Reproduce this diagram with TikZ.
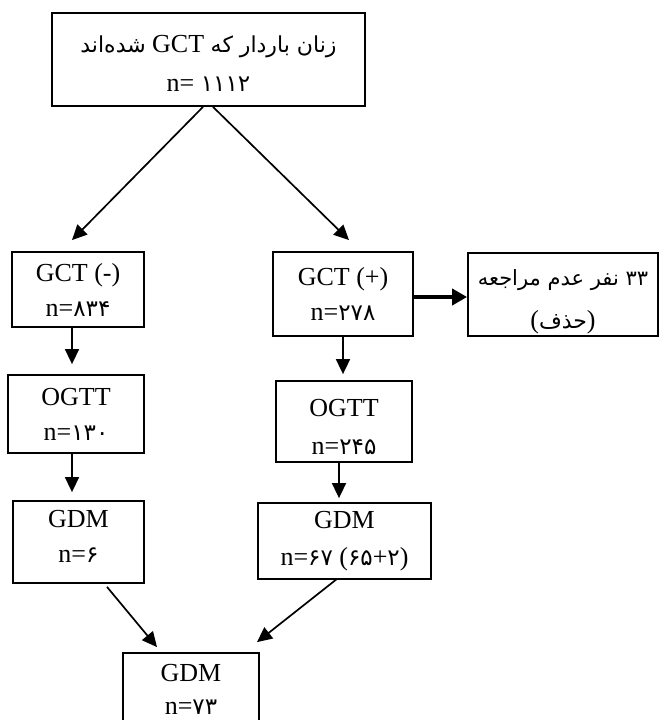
\documentclass[tikz,border=0pt]{standalone}
\usepackage{fontspec}
\setmainfont{Liberation Serif}
\newfontfamily\fa[Script=Arabic]{DejaVu Sans}
\TeXXeTstate=1
\usetikzlibrary{arrows.meta,calc}
\newcommand\pdig[1]{{\fa\fontsize{23}{23}\selectfont #1}}
\newcommand\fatext[1]{{\fa\fontsize{22}{22}\selectfont\beginR #1\endR}}
\newcommand\updepth[1]{\rule[-#1]{0pt}{#1}}
\newcommand\upheight[1]{\rule{0pt}{#1}}
\begin{document}
\begin{tikzpicture}[x=1pt,y=-1pt,
  box/.style={draw, line width=1.8pt, inner sep=0pt, align=center,
    font=\fontsize{26}{36}\selectfont},
  arr/.style={-{Triangle[length=15pt,width=14pt]}, line width=1.7pt},
  thickarr/.style={-{Triangle[length=15pt,width=16pt]}, line width=4.5pt}]
\useasboundingbox (0,0) rectangle (659,720);
\clip (0,0) rectangle (659,720);

\node[box, minimum width=313pt, minimum height=93pt] (top) at (208.5,59.5)
  {\upheight{24pt}\fatext{شده‌اند}\ GCT\ \fatext{زنان باردار که}\\[3pt] n=\ \pdig{۱۱۱۲}};
\node[box, minimum width=132pt, minimum height=75pt] (gctn) at (78,289.5)
  {GCT (-)\\[-1pt] n=\pdig{۸۳۴}};
\node[box, minimum width=140pt, minimum height=84pt] (gctp) at (343,294)
  {GCT (+)\\[-1pt] n=\pdig{۲۷۸}};
\node[box, minimum width=190pt, minimum height=83pt] (side) at (563,294.5)
  {\upheight{30pt}{\fa\fontsize{21}{21}\selectfont\beginR ۳۳ نفر عدم مراجعه\endR}\\[7pt] (\fatext{حذف})};
\node[box, minimum width=136pt, minimum height=78pt] (ogttn) at (76,414)
  {OGTT\\[-1pt] n=\pdig{۱۳۰}};
\node[box, minimum width=136pt, minimum height=81pt] (ogttp) at (344,421.5)
  {\upheight{28pt}OGTT\\[2pt] n=\pdig{۲۴۵}};
\node[box, minimum width=131pt, minimum height=82pt] (gdmn) at (78.5,542)
  {GDM\\[-1pt] n=\pdig{۶}\updepth{12pt}};
\node[box, minimum width=173pt, minimum height=76pt] (gdmp) at (344.5,541)
  {GDM\\[1pt] n=\pdig{۶۷} (\pdig{۶۵}+\pdig{۲})};
\node[box, minimum width=136pt, minimum height=72pt] (fin) at (191,689)
  {GDM\\[-3pt] n=\pdig{۷۳}};

\draw[arr] ($(top.south)+(-5.5,0)$) -- ($(gctn.north)+(-6,-11)$);
\draw[arr] ($(top.south)+(4.5,0)$) -- ($(gctp.north)+(6,-11)$);
\draw[thickarr] ($(gctp.east)+(0,3)$) -- ($(side.west)+(0,2.5)$);
\draw[arr] ($(gctn.south)+(-6,0)$) -- ($(ogttn.north)+(-4,-10)$);
\draw[arr] ($(ogttn.south)+(-4,0)$) -- ($(gdmn.north)+(-6.5,-8)$);
\draw[arr] (gctp.south) -- ($(ogttp.north)+(-1,-6)$);
\draw[arr] ($(ogttp.south)+(-5,0)$) -- ($(gdmp.north)+(-5.5,-4)$);
\draw[arr] ($(gdmn.south)+(28.5,3)$) -- ($(fin.north)+(-34,-5)$);
\draw[arr] ($(gdmp.south)+(-7.5,-1)$) -- ($(fin.north)+(66,-10)$);
\end{tikzpicture}
\end{document}
